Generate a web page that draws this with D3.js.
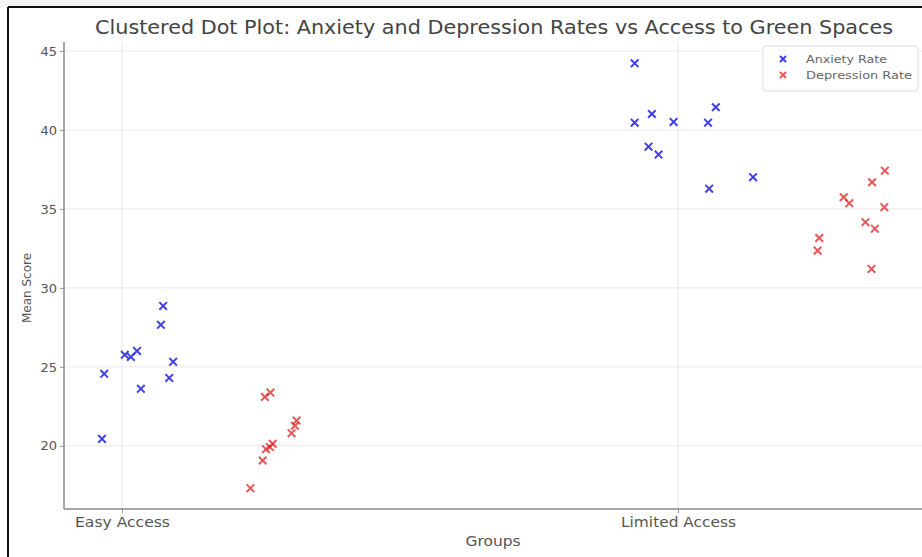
<!DOCTYPE html>
<html>
<head>
<meta charset="utf-8">
<script src="https://cdn.jsdelivr.net/npm/d3@7"></script>
<style>
  html, body { margin: 0; padding: 0; background: #fff; }
  svg { display: block; }
  text { font-family: "DejaVu Sans", sans-serif; }
</style>
</head>
<body>
<div id="chart"></div>
<script>
// ---- data ----
const categories = ["Easy Access", "Limited Access"];
const yTicks = [20, 25, 30, 35, 40, 45];
const seriesNames = ["Anxiety Rate", "Depression Rate"];

// x position within category (category index + jittered offset) and value
const anxietyEasyX = [-0.036, -0.032, 0.005, 0.016, 0.027, 0.034, 0.070, 0.074, 0.085, 0.092];
const anxietyEasyY = [20.44, 24.56, 25.76, 25.63, 26.01, 23.61, 27.66, 28.86, 24.30, 25.32];
const depressionEasyX = [0.231, 0.253, 0.259, 0.266, 0.271, 0.257, 0.267, 0.305, 0.311, 0.314];
const depressionEasyY = [17.32, 19.07, 19.79, 19.92, 20.13, 23.10, 23.37, 20.80, 21.27, 21.60];
const anxietyLimitedX = [-0.078, -0.047, -0.078, -0.008, 0.068, 0.054, -0.053, -0.035, 0.135, 0.056];
const anxietyLimitedY = [44.22, 41.01, 40.46, 40.51, 41.44, 40.46, 38.94, 38.44, 37.01, 36.28];
const depressionLimitedX = [0.372, 0.349, 0.298, 0.308, 0.371, 0.337, 0.354, 0.254, 0.251, 0.348];
const depressionLimitedY = [37.42, 36.69, 35.74, 35.36, 35.11, 34.16, 33.75, 33.16, 32.36, 31.20];

const colors = ["#1f1fe0", "#e02020"];
const opac = [0.85, 0.75];

function build(cat, xs, ys, s) {
  return xs.map((x, i) => ({ x: cat + x, y: ys[i], s }));
}
const points = [
  ...build(0, anxietyEasyX, anxietyEasyY, 0),
  ...build(1, anxietyLimitedX, anxietyLimitedY, 0),
  ...build(0, depressionEasyX, depressionEasyY, 1),
  ...build(1, depressionLimitedX, depressionLimitedY, 1)
];

// ---- layout ----
const W = 922, H = 557;
const pLeft = 64, pBottom = 509, pTop = 42, pRight = 924;

const svg = d3.select("#chart").append("svg").attr("width", W).attr("height", H);

// outer frame (screenshot border)
svg.append("rect").attr("x", 0).attr("y", 0).attr("width", W).attr("height", 7).attr("fill", "#f3f3f3");
svg.append("line").attr("x1", 8).attr("x2", W).attr("y1", 7).attr("y2", 7).attr("stroke", "#111").attr("stroke-width", 2);
svg.append("line").attr("x1", 8).attr("x2", 8).attr("y1", 7).attr("y2", H).attr("stroke", "#111").attr("stroke-width", 2);

const x = d3.scaleLinear().domain([-0.1043, 1.4424]).range([pLeft, pRight]);
const y = d3.scaleLinear().domain([16.0, 45.57]).range([pBottom, pTop]);

// grid
const g = svg.append("g");
g.selectAll(".hg").data(yTicks).join("line")
  .attr("x1", pLeft).attr("x2", pRight)
  .attr("y1", d => y(d)).attr("y2", d => y(d))
  .attr("stroke", "#e8e8e8").attr("stroke-width", 1);
g.selectAll(".vg").data(categories).join("line")
  .attr("x1", (d, i) => x(i)).attr("x2", (d, i) => x(i))
  .attr("y1", pTop).attr("y2", pBottom)
  .attr("stroke", "#e8e8e8").attr("stroke-width", 1);

// axes
const yAxis = d3.axisLeft(y).tickValues(yTicks).tickSize(4).tickPadding(3).tickFormat(d3.format("d"));
const xAxis = d3.axisBottom(x).tickValues([0, 1]).tickSize(4).tickPadding(4).tickFormat(d => categories[d]);

const ya = svg.append("g").attr("transform", `translate(${pLeft},0)`).call(yAxis);
ya.select(".domain").remove();
const xa = svg.append("g").attr("transform", `translate(0,${pBottom})`).call(xAxis);
xa.select(".domain").remove();
[ya, xa].forEach(a => {
  a.selectAll("line").attr("stroke", "#999");
  a.selectAll("text").attr("fill", "#555").attr("font-size", 13).attr("font-family", "DejaVu Sans, sans-serif");
});
const catWidths = [95, 115];
xa.selectAll("text").attr("font-size", 14)
  .attr("textLength", (d) => catWidths[d]).attr("lengthAdjust", "spacingAndGlyphs");

// spines
svg.append("line").attr("x1", pLeft).attr("x2", pLeft).attr("y1", pTop).attr("y2", pBottom).attr("stroke", "#8a8a8a").attr("stroke-width", 1.5);
svg.append("line").attr("x1", pLeft).attr("x2", pRight).attr("y1", pBottom).attr("y2", pBottom).attr("stroke", "#8a8a8a").attr("stroke-width", 1.5);

// marks
const sz = 3.8;
const mk = svg.append("g");
mk.selectAll("path.pt").data(points).join("path")
  .attr("class", "pt")
  .attr("d", d => {
    const cx = x(d.x), cy = y(d.y);
    return `M${cx - sz},${cy - sz}L${cx + sz},${cy + sz}M${cx - sz},${cy + sz}L${cx + sz},${cy - sz}`;
  })
  .attr("stroke", d => colors[d.s]).attr("stroke-opacity", d => opac[d.s])
  .attr("stroke-width", 2).attr("fill", "none");

// titles
svg.append("text").attr("x", 494).attr("y", 34).attr("text-anchor", "middle")
  .attr("font-size", 19).attr("fill", "#444")
  .attr("textLength", 798).attr("lengthAdjust", "spacingAndGlyphs")
  .text("Clustered Dot Plot: Anxiety and Depression Rates vs Access to Green Spaces");
svg.append("text").attr("x", 493).attr("y", 546).attr("text-anchor", "middle")
  .attr("font-size", 14).attr("fill", "#555")
  .attr("textLength", 55).attr("lengthAdjust", "spacingAndGlyphs").text("Groups");
svg.append("text").attr("transform", "translate(31,288) rotate(-90)").attr("text-anchor", "middle")
  .attr("font-size", 12).attr("fill", "#555").text("Mean Score");

// legend
const legWidths = [81, 106];
const lg = svg.append("g");
lg.append("rect").attr("x", 763).attr("y", 46).attr("width", 155).attr("height", 45).attr("rx", 3)
  .attr("fill", "#fff").attr("fill-opacity", 0.85).attr("stroke", "#ddd");
seriesNames.forEach((n, i) => {
  const cy = 59 + i * 16, cx = 783;
  lg.append("path")
    .attr("d", `M${cx - 3},${cy - 3}L${cx + 3},${cy + 3}M${cx - 3},${cy + 3}L${cx + 3},${cy - 3}`)
    .attr("stroke", colors[i]).attr("stroke-opacity", opac[i]).attr("stroke-width", 2);
  lg.append("text").attr("x", 806).attr("y", cy + 3.5).attr("font-size", 10.5).attr("fill", "#666")
    .attr("textLength", legWidths[i]).attr("lengthAdjust", "spacingAndGlyphs").text(n);
});
</script>
</body>
</html>
